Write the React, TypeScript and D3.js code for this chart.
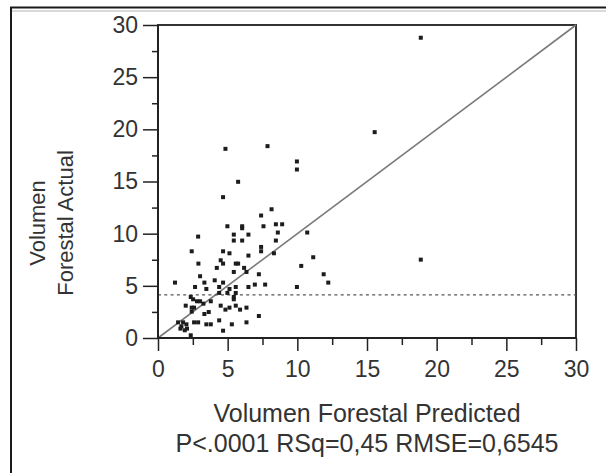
import React, { useEffect, useRef } from 'react';
import * as d3 from "d3";

// predicted / actual pairs
const predicted = [18.86, 15.55, 18.86, 4.84, 7.86, 9.97, 9.97, 5.75, 4.67, 8.15, 7.40, 4.98, 6.04, 6.04, 7.57, 8.46, 8.91, 2.88, 5.44, 6.49,
  5.44, 6.04, 8.60, 8.46, 10.71, 7.40, 7.40, 2.42, 4.67, 5.13, 8.32, 11.14, 2.90, 4.50, 4.67, 5.58, 5.75, 6.49, 4.22, 5.44,
  6.18, 6.35, 10.28, 3.02, 4.07, 3.33, 1.22, 7.24, 11.89, 12.22, 4.67, 5.13, 5.58, 6.49, 6.95, 7.69, 9.97, 2.66, 3.47, 4.39,
  4.39, 4.98, 5.58, 5.44, 5.44, 3.79, 3.26, 3.02, 2.35, 2.52, 2.80, 1.99, 2.42, 2.59, 4.50, 4.84, 5.13, 5.58, 5.89, 6.35,
  3.33, 3.64, 2.42, 7.24, 4.39, 2.59, 2.88, 3.47, 3.79, 5.30, 6.35, 4.67, 1.44, 1.80, 2.04, 1.61, 1.92, 1.68, 2.08, 2.35];
const actual = [28.78, 19.73, 7.51, 18.13, 18.39, 16.92, 16.15, 14.97, 13.50, 12.34, 11.74, 10.71, 10.71, 10.52, 10.71, 10.90, 10.90, 9.72, 9.91, 9.91,
  9.34, 9.34, 10.11, 9.34, 10.11, 8.73, 8.31, 8.31, 8.31, 8.12, 8.12, 7.74, 7.13, 7.45, 7.13, 7.13, 7.13, 7.90, 6.72, 6.33,
  6.72, 6.33, 6.91, 5.92, 5.53, 5.31, 5.31, 6.11, 6.11, 5.31, 5.31, 4.70, 4.89, 4.89, 5.12, 5.12, 4.89, 4.89, 4.70, 4.89,
  4.32, 4.32, 4.32, 3.93, 3.71, 3.52, 3.29, 3.52, 3.93, 3.71, 3.52, 3.10, 2.91, 2.91, 3.10, 2.72, 2.91, 3.10, 2.72, 2.91,
  2.30, 2.49, 2.53, 2.11, 1.69, 1.50, 1.50, 1.31, 1.31, 1.31, 1.50, 0.70, 1.50, 1.50, 1.31, 0.90, 0.74, 1.12, 0.90, 0.26];
const meanActual = 4.13;
const majorTicks = [0, 5, 10, 15, 20, 25, 30];
const minorTicks = [2.5, 7.5, 12.5, 17.5, 22.5, 27.5];
const xTitle = "Volumen Forestal Predicted";
const statsLine = "P<.0001 RSq=0,45 RMSE=0,6545";
const yTitle = ["Volumen", "Forestal Actual"];

const W = 610, H = 473;
const FONT = "Arial, 'Liberation Sans', sans-serif";

function FitChart() {
  const ref = useRef<SVGSVGElement>(null);

  useEffect(() => {
    if (ref.current == null) return;
    const svg = d3.select(ref.current);
    svg.selectAll("*").remove();

    const left = 158, right = 576, top = 25, bottom = 338;
    const x = d3.scaleLinear().domain([0, 30]).range([left, right]);
    const y = d3.scaleLinear().domain([0, 30]).range([bottom, top]);

    svg.append("rect").attr("width", W).attr("height", H).attr("fill", "#fff");

    // outer frame (top + left only)
    svg.append("line").attr("x1", 11).attr("x2", 606).attr("y1", 11).attr("y2", 11)
      .attr("stroke", "#ccc").attr("stroke-width", 1.5);
    svg.append("path").attr("d", `M11,${H} V7.5 H606`)
      .attr("fill", "none").attr("stroke", "#1a1a1a").attr("stroke-width", 2);

    // plot frame
    svg.append("rect")
      .attr("x", left).attr("y", top).attr("width", right - left).attr("height", bottom - top)
      .attr("fill", "none").attr("stroke", "#333").attr("stroke-width", 2);

    // y = x line
    svg.append("line")
      .attr("x1", x(0)).attr("y1", y(0)).attr("x2", x(30)).attr("y2", y(30))
      .attr("stroke", "#7a7a7a").attr("stroke-width", 1.6);

    // mean line
    svg.append("line")
      .attr("x1", x(0)).attr("x2", x(30)).attr("y1", y(meanActual)).attr("y2", y(meanActual))
      .attr("stroke", "#555").attr("stroke-width", 1.2).attr("stroke-dasharray", "3,3.3");

    // points
    const pts = predicted.map((p, i) => ({ p, a: actual[i] }));
    svg.append("g").selectAll("rect").data(pts).enter().append("rect")
      .attr("x", d => x(d.p) - 2).attr("y", d => y(d.a) - 2)
      .attr("width", 4).attr("height", 4).attr("fill", "#1c1c1c");

    // x axis
    const xAxis = svg.append("g").attr("transform", `translate(0,${bottom})`);
    xAxis.append("g").call(d3.axisBottom(x).tickValues(majorTicks).tickSize(13).tickSizeOuter(0))
      .call(g => g.select(".domain").remove())
      .call(g => g.selectAll(".tick line").attr("stroke", "#222").attr("stroke-width", 1.5))
      .call(g => g.selectAll(".tick text").attr("font-size", 23).attr("font-family", FONT)
        .attr("fill", "#333").attr("y", 23));
    xAxis.append("g").call(d3.axisBottom(x).tickValues(minorTicks).tickSize(7).tickFormat(() => ""))
      .call(g => g.select(".domain").remove())
      .call(g => g.selectAll(".tick line").attr("stroke", "#222").attr("stroke-width", 1.5));
    xAxis.append("line").attr("x1", left).attr("x2", right).attr("stroke", "#222").attr("stroke-width", 2);

    // y axis
    const yAxis = svg.append("g").attr("transform", `translate(${left},0)`);
    yAxis.append("g").call(d3.axisLeft(y).tickValues(majorTicks).tickSize(15).tickPadding(5).tickSizeOuter(0))
      .call(g => g.select(".domain").remove())
      .call(g => g.selectAll(".tick line").attr("stroke", "#222").attr("stroke-width", 1.5))
      .call(g => g.selectAll(".tick text").attr("font-size", 23).attr("font-family", FONT)
        .attr("fill", "#333"));
    yAxis.append("g").call(d3.axisLeft(y).tickValues(minorTicks).tickSize(6).tickFormat(() => ""))
      .call(g => g.select(".domain").remove())
      .call(g => g.selectAll(".tick line").attr("stroke", "#222").attr("stroke-width", 1.5));
    yAxis.append("line").attr("y1", top).attr("y2", bottom).attr("stroke", "#222").attr("stroke-width", 2);

    // titles
    const cx = (left + right) / 2;
    svg.append("text").attr("x", cx).attr("y", 422).attr("text-anchor", "middle")
      .attr("font-size", 25).attr("font-family", FONT).attr("fill", "#333").text(xTitle);
    svg.append("text").attr("x", cx).attr("y", 452).attr("text-anchor", "middle")
      .attr("font-size", 25).attr("font-family", FONT).attr("fill", "#333").text(statsLine);

    const yt = svg.append("text").attr("transform", "translate(0,223) rotate(-90)")
      .attr("text-anchor", "middle").attr("font-size", 22).attr("font-family", FONT).attr("fill", "#333");
    yt.append("tspan").attr("x", 0).attr("y", 45).text(yTitle[0]);
    yt.append("tspan").attr("x", 0).attr("y", 73).text(yTitle[1]);
  }, []);

  return (<svg ref={ref} width={W} height={H} style={{ position: "absolute", left: 0, top: 0 }}></svg>);
}

export default function App() {
  return <FitChart />;
}
